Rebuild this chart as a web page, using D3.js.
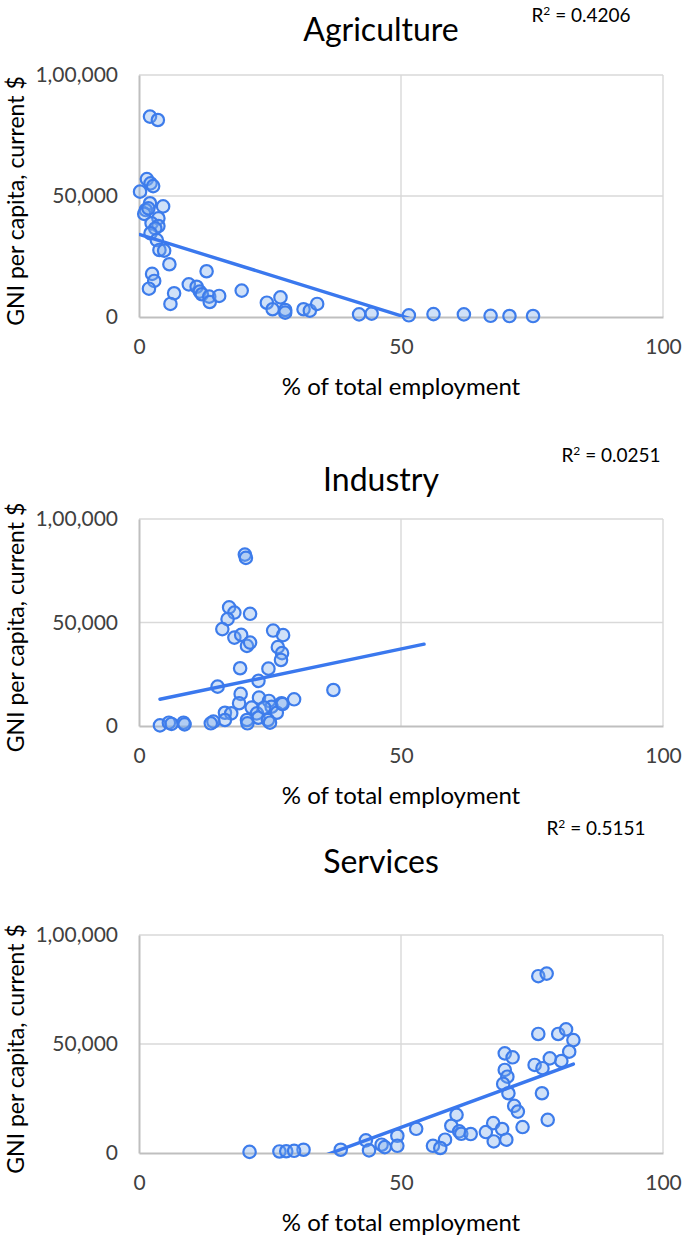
<!DOCTYPE html>
<html><head><meta charset="utf-8">
<script src="https://cdn.jsdelivr.net/npm/d3@7"></script>
<style>
html,body{margin:0;padding:0;background:#fff;}
svg{display:block;font-family:Lato, "Open Sans", sans-serif;}
</style></head>
<body>
<svg id="chart" width="685" height="1237"></svg>
<script>
// ---- data ----
const panelTitles = ["Agriculture", "Industry", "Services"];
const r2Labels = ["0.4206", "0.0251", "0.5151"];
const xTicks = [0, 50, 100];
const yTicks = [0, 50000, 100000];
const yTickLabels = ["0", "50,000", "1,00,000"];
const xAxisTitle = "% of total employment";
const yAxisTitle = "GNI per capita, current $";

const agricultureEmployment = [2.1,3.6,1.5,2.2,2.7,0.2,4.6,2.1,1.3,1.0,1.8,3.7,2.4,3.7,3.1,2.2,3.4,3.9,4.8,5.8,2.5,2.9,1.9,12.9,6.7,6.0,9.5,11.0,11.6,12.0,13.4,13.5,15.3,19.6,24.4,25.5,27.0,27.9,27.9,31.4,32.6,34.0,42.0,44.4,51.5,56.2,62.0,67.1,70.7,75.2];
const agricultureGNI = [82800,81400,57000,55200,54100,51800,45700,47000,44200,42600,44900,40800,38700,37600,36600,34600,31800,27700,27400,21800,17800,14900,11700,18900,9800,5400,13500,12500,10500,9400,8400,6200,8700,10900,5900,3200,8100,2900,1800,3200,2600,5400,1100,1400,700,1200,1100,500,400,400];

const industryEmployment = [20.2,20.4,17.2,18.2,21.2,16.9,15.9,18.2,19.5,25.6,27.5,20.6,21.2,26.5,27.3,27.1,19.3,24.7,22.8,15.0,37.1,19.4,19.1,22.9,24.8,29.6,21.5,27.2,25.3,26.3,16.4,17.6,22.5,22.8,20.6,20.7,24.6,25.0,16.4,14.2,13.7,4.0,5.7,6.2,8.5,8.7,27.4,23.9];
const industryGNI = [82800,81200,57300,54800,54200,51600,46800,42700,44000,46100,43900,38700,40300,38100,35200,31900,27900,27700,21800,19000,17400,15500,11000,13700,12100,12900,8900,11000,9300,6400,6400,6100,6100,4000,2900,1300,2900,1600,2900,2100,1300,300,1600,1000,1600,800,10600,8900];

const servicesEmployment = [76.2,77.8,76.2,80.0,81.5,82.9,82.1,80.6,78.4,75.5,77.0,69.8,71.3,69.8,70.3,69.5,70.5,76.9,71.6,72.3,78.0,73.2,67.6,66.2,69.3,70.1,67.7,60.6,59.6,61.1,61.5,63.3,58.4,56.1,57.5,52.9,49.3,49.3,46.3,46.9,43.3,43.9,38.5,31.4,21.1,26.8,28.1,29.6];
const servicesGNI = [81100,82300,54600,54600,56700,51800,46500,42200,43400,40400,38900,45700,43900,38100,35000,31700,27400,27400,21600,19000,15200,11900,13700,9600,11000,6100,5300,17500,12500,9900,8800,8700,6100,3300,2300,11100,7900,3300,3800,2700,5800,1200,1500,1500,500,700,800,1000];

// linear trendline coefficients
const trendSlope = [-674, 528, 883];
const trendIntercept = [34200, 10800, -32400];
const trendXStart = [0.2, 4.0, 21.1];
const trendXEnd = [75.2, 54.4, 82.9];

const employmentSeries = [agricultureEmployment, industryEmployment, servicesEmployment];
const gniSeries = [agricultureGNI, industryGNI, servicesGNI];

// ---- layout ----
const panels = [
  {top: 75, bottom: 317, titleY: 41, r2X: 581, r2Y: 22},
  {top: 519, bottom: 726, titleY: 491, r2X: 611, r2Y: 462},
  {top: 935, bottom: 1153, titleY: 873, r2X: 596, r2Y: 835}
];
const left = 139, right = 663;

const svg = d3.select("#chart");
const x = d3.scaleLinear().domain([0, 100]).range([left, right]);

panels.forEach((p, i) => {
  const g = svg.append("g");
  const y = d3.scaleLinear().domain([0, 100000]).range([p.bottom, p.top]);

  // gridlines
  g.append("g").selectAll("line.h").data(yTicks.filter(d => d > 0)).join("line")
    .attr("x1", left).attr("x2", right)
    .attr("y1", d => y(d)).attr("y2", d => y(d))
    .attr("stroke", "#d9d9d9").attr("stroke-width", 1.4);
  g.append("g").selectAll("line.v").data(xTicks.filter(d => d > 0)).join("line")
    .attr("x1", d => x(d)).attr("x2", d => x(d))
    .attr("y1", p.top).attr("y2", p.bottom)
    .attr("stroke", "#d9d9d9").attr("stroke-width", 1.4);

  // axes
  const yAxis = d3.axisLeft(y).tickValues(yTicks).tickSize(0).tickPadding(21)
    .tickFormat((d, k) => yTickLabels[k]);
  const ya = g.append("g").attr("transform", `translate(${left},0)`).call(yAxis);
  ya.select(".domain").attr("stroke", "#bfbfbf").attr("stroke-width", 2);
  ya.selectAll("text").attr("font-size", 21).attr("fill", "#404040")
    .attr("font-family", "Lato, sans-serif");

  const xAxis = d3.axisBottom(x).tickValues(xTicks).tickSize(0).tickPadding(22);
  const xa = g.append("g").attr("transform", `translate(0,${p.bottom})`).call(xAxis);
  xa.select(".domain").attr("stroke", "#bfbfbf").attr("stroke-width", 2);
  xa.selectAll("text").attr("font-size", 21).attr("fill", "#404040")
    .attr("font-family", "Lato, sans-serif");

  // points
  const pts = employmentSeries[i].map((v, k) => [v, gniSeries[i][k]]);
  g.append("g").selectAll("circle").data(pts).join("circle")
    .attr("cx", d => x(d[0])).attr("cy", d => y(d[1])).attr("r", 6.2)
    .attr("fill", "rgba(120,170,235,0.35)")
    .attr("stroke", "#3d7ceb").attr("stroke-width", 2.2);

  // trendline (clipped to plot area)
  const clipId = "clip" + i;
  svg.append("clipPath").attr("id", clipId).append("rect")
    .attr("x", left).attr("y", p.top).attr("width", right - left).attr("height", p.bottom - p.top);
  const tx = [trendXStart[i], trendXEnd[i]];
  g.append("line")
    .attr("clip-path", `url(#${clipId})`)
    .attr("x1", x(tx[0])).attr("y1", y(trendIntercept[i] + trendSlope[i] * tx[0]))
    .attr("x2", x(tx[1])).attr("y2", y(trendIntercept[i] + trendSlope[i] * tx[1]))
    .attr("stroke", "#3a78ee").attr("stroke-width", 3.4).attr("stroke-linecap", "round");

  // titles
  g.append("text").attr("x", 381).attr("y", p.titleY).attr("text-anchor", "middle")
    .attr("font-size", 32).attr("fill", "#000").text(panelTitles[i]);
  const r2 = g.append("text").attr("x", p.r2X).attr("y", p.r2Y).attr("text-anchor", "middle")
    .attr("font-size", 19).attr("fill", "#000");
  r2.append("tspan").text("R");
  r2.append("tspan").attr("dy", -7).attr("font-size", 12).text("2");
  r2.append("tspan").attr("dy", 7).text(" = " + r2Labels[i]);

  g.append("text").attr("x", (left + right) / 2).attr("y", p.bottom + 78)
    .attr("text-anchor", "middle").attr("font-size", 24).attr("fill", "#000").text(xAxisTitle);
  g.append("text")
    .attr("transform", `translate(24,${(p.top + p.bottom) / 2 + 5}) rotate(-90)`)
    .attr("text-anchor", "middle").attr("font-size", 23).attr("fill", "#000").text(yAxisTitle);
});
</script>
</body></html>
